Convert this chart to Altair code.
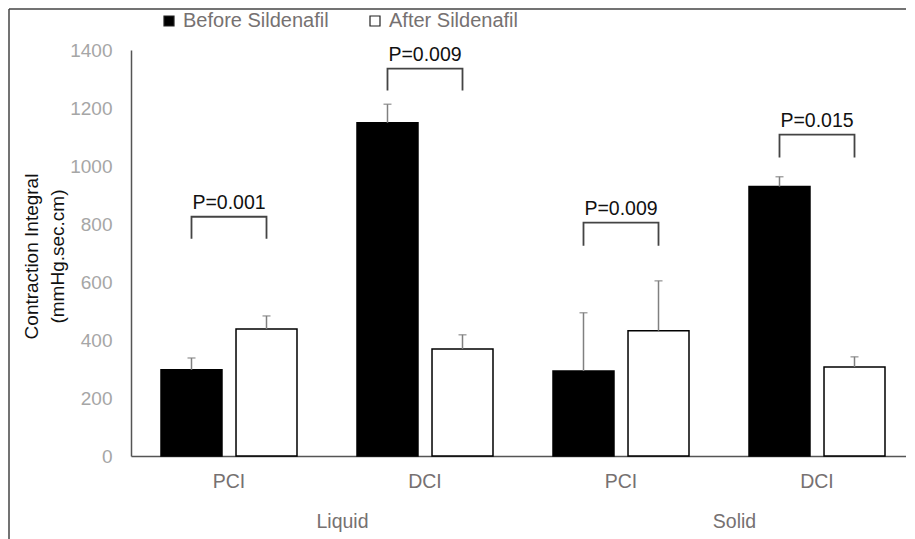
import altair as alt
import pandas as pd

# ---- data ----
groups = ["Liquid", "Liquid", "Solid", "Solid"]
sites = ["PCI", "DCI", "PCI", "DCI"]
series_names = ["Before Sildenafil", "After Sildenafil"]
before_vals = [297, 1149, 293, 929]
before_err = [41, 64, 201, 34]
after_vals = [438, 369, 432, 307]
after_err = [45, 49, 172, 35]
p_labels = ["P=0.001", "P=0.009", "P=0.009", "P=0.015"]
bracket_top = [825, 1336, 805, 1108]
bracket_bottom = [749, 1260, 725, 1029]
group_names = ["Liquid", "Solid"]
y_ticks = [0, 200, 400, 600, 800, 1000, 1200, 1400]

FONT = "Liberation Sans"
combos = [f"{g} {s}" for g, s in zip(groups, sites)]

rows = []
for i, c in enumerate(combos):
    rows.append({"combo": c, "series": series_names[0], "value": before_vals[i],
                 "top": before_vals[i] + before_err[i]})
    rows.append({"combo": c, "series": series_names[1], "value": after_vals[i],
                 "top": after_vals[i] + after_err[i]})
bars_df = pd.DataFrame(rows)

br_rows = []
for i, c in enumerate(combos):
    br_rows += [
        {"combo": c, "series": series_names[0], "y": bracket_bottom[i], "ord": 0},
        {"combo": c, "series": series_names[0], "y": bracket_top[i], "ord": 1},
        {"combo": c, "series": series_names[1], "y": bracket_top[i], "ord": 2},
        {"combo": c, "series": series_names[1], "y": bracket_bottom[i], "ord": 3},
    ]
br_df = pd.DataFrame(br_rows)
p_df = pd.DataFrame({"combo": combos, "label": p_labels, "y": bracket_top})
grp_df = pd.DataFrame({"group": group_names})
frame_df = pd.DataFrame({"a": [0]})

W, H = 784, 406

x_enc = alt.X(
    "combo:N", sort=combos,
    scale=alt.Scale(paddingInner=0, paddingOuter=0),
    axis=alt.Axis(title=None, labelExpr="split(datum.label, ' ')[1]", labelAngle=0,
                  ticks=False, tickSize=0, domainColor="#555555", domainWidth=1.5,
                  labelColor="#767171", labelFontSize=19.5, labelFont=FONT, labelPadding=16),
)
xo_enc = alt.XOffset("series:N", sort=series_names,
                     scale=alt.Scale(paddingInner=0.187, paddingOuter=0.4))
y_scale = alt.Scale(domain=[0, 1400], nice=False)

bars = alt.Chart(bars_df).mark_bar(stroke="black", strokeWidth=1.5).encode(
    x=x_enc, xOffset=xo_enc,
    y=alt.Y("value:Q", scale=y_scale,
            axis=alt.Axis(values=y_ticks, format="d", grid=False, ticks=False, tickSize=0,
                          domainColor="#555555", domainWidth=1.5,
                          labelColor="#a6a6a6", labelFontSize=19, labelFont=FONT,
                          labelPadding=19,
                          title=["Contraction Integral", "(mmHg.sec.cm)"],
                          titleFont=FONT, titleFontSize=19, titleFontWeight="normal",
                          titleColor="#111111", titleLineHeight=26, titleY=206,
                          titlePadding=2)),
    color=alt.Color("series:N", sort=series_names,
                    scale=alt.Scale(domain=series_names, range=["black", "white"]),
                    legend=alt.Legend(title=None, orient="none", direction="horizontal",
                                      legendX=28, legendY=-39, symbolType="square",
                                      symbolSize=100, symbolStrokeColor="#222222",
                                      symbolStrokeWidth=1.2, labelFont=FONT,
                                      labelFontSize=20, labelColor="#767171",
                                      columnPadding=36, labelOffset=4)),
)

err_rule = alt.Chart(bars_df).mark_rule(color="#808080", strokeWidth=1.5).encode(
    x=x_enc, xOffset=xo_enc, y=alt.Y("value:Q", scale=y_scale), y2="top:Q")
err_cap = alt.Chart(bars_df).mark_tick(color="#808080", thickness=1.5, size=8).encode(
    x=x_enc, xOffset=xo_enc, y=alt.Y("top:Q", scale=y_scale))

brackets = alt.Chart(br_df).mark_line(color="#444444", strokeWidth=1.8).encode(
    x=x_enc, xOffset=xo_enc, y=alt.Y("y:Q", scale=y_scale),
    detail="combo:N", order="ord:O")

ptext = alt.Chart(p_df).mark_text(font=FONT, fontSize=19.5, color="#111111",
                                  baseline="alphabetic", dy=-8).encode(
    x=x_enc, y=alt.Y("y:Q", scale=y_scale), text="label:N")

main = alt.layer(bars, err_rule, err_cap, brackets, ptext)

grp = alt.Chart(grp_df).mark_point(opacity=0).encode(
    x=alt.X("group:N", sort=group_names,
            scale=alt.Scale(paddingInner=0, paddingOuter=0),
            axis=alt.Axis(title=None, orient="bottom", domain=False, ticks=False,
                          tickSize=0, labelAngle=0, labelFont=FONT, labelFontSize=19.5,
                          labelColor="#767171", labelPadding=56, labelOffset=15)),
    y=alt.value(0))

frame_top = alt.Chart(frame_df).mark_rule(color="#444444", strokeWidth=1.5).encode(
    x=alt.value(-122), x2=alt.value(W), y=alt.value(-41))
frame_left = alt.Chart(frame_df).mark_rule(color="#444444", strokeWidth=1.5).encode(
    x=alt.value(-122), y=alt.value(-41), y2=alt.value(560))

chart = alt.layer(main, grp, frame_top, frame_left).resolve_scale(
    x="independent").properties(
    width=W, height=H, background="white",
    padding={"left": 0, "top": 0, "right": -10, "bottom": 0},
).configure_view(stroke=None)

chart.save("out.html", embed_options={"renderer": "svg", "actions": False})
